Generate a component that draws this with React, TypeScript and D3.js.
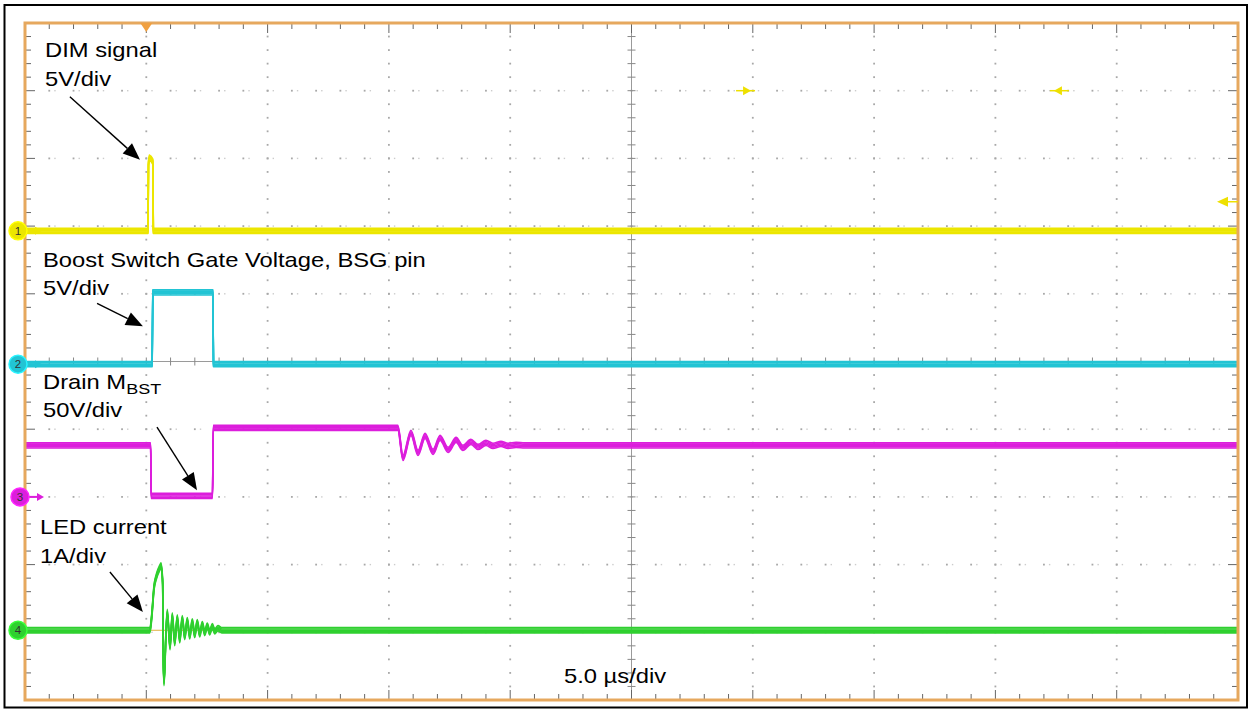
import React from 'react';
import * as d3 from 'd3';

// ---- Scope geometry (10 x 10 divisions) ----
const TIME_PER_DIV = 5; // µs/div
const timeRange: [number, number] = [-5, 45]; // µs, trigger at 0
const divRange: [number, number] = [5, -5];

// ---- Channel settings ----
const channelNames = ['1', '2', '3', '4'];
const channelColors = ['#ece600', '#22c4d4', '#dc1edc', '#2fd02f'];
const channelScale = [5, 5, 50, 1]; // units per div
const channelOffsetDiv = [1.93, -0.04, -2.0, -3.97]; // ground marker position (div)

// ---- Waveforms: [time µs, value] ----
const ch1DimSignal: [number, number][] = [
  [-5, 0], [0.07, 0], [0.09, 5.0], [0.13, 5.4], [0.2, 5.3], [0.27, 5.1], [0.29, 0], [45, 0],
];
const ch2GateVoltage: [number, number][] = [
  [-5, 0], [0.24, 0], [0.27, 5.3], [2.74, 5.3], [2.77, 0], [45, 0],
];
const ch3DrainVoltage: [number, number][] = [
  [-5, 38], [0.18, 38], [0.2, 0.7], [2.73, 0.7], [2.76, 51], [10.37, 51],
  [10.58, 28.8], [10.91, 47.3], [11.2, 32.5], [11.49, 45.1], [11.82, 33.2],
  [12.11, 43.6], [12.44, 34.7], [12.77, 42.1], [13.05, 36.2], [13.38, 40.6],
  [13.67, 36.9], [14.0, 39.9], [14.29, 37.7], [14.62, 39.1], [14.91, 37.7],
  [15.24, 38.4], [15.6, 38], [45, 38],
];
const ch4LedCurrent: [number, number][] = [
  [-5, 0], [0.15, 0], [0.22, 0.19], [0.32, 0.635], [0.43, 0.81], [0.565, 0.93],
  [0.606, 0.96], [0.676, 0.69], [0.701, -0.44], [0.73, -0.78], [0.812, -0.04],
  [0.866, 0.27], [0.977, -0.25], [1.072, 0.22], [1.171, -0.19], [1.278, 0.19],
  [1.377, -0.15], [1.484, 0.18], [1.583, -0.1], [1.69, 0.15], [1.789, -0.09],
  [1.896, 0.13], [1.995, -0.07], [2.102, 0.12], [2.201, -0.06], [2.308, 0.09],
  [2.407, -0.04], [2.514, 0.07], [2.613, -0.03], [2.721, 0.06], [2.819, -0.015],
  [2.955, 0.03], [3.12, 0], [45, 0],
];
const waveforms = [ch1DimSignal, ch2GateVoltage, ch3DrainVoltage, ch4LedCurrent];
const smoothTrace = [false, false, true, true];

// ---- Annotation text ----
const labelLines = ['DIM signal', '5V/div', 'Boost Switch Gate Voltage, BSG pin', '5V/div', 'Drain M', '50V/div', 'LED current', '1A/div'];
const timebaseLabel = `${TIME_PER_DIV.toFixed(1)} µs/div`;

// annotation arrows: [t0, div0, t1, div1]
const arrows: [number, number, number, number][] = [
  [-3.15, 3.91, -0.26, 2.98],
  [-2.03, 0.86, -0.14, 0.52],
  [0.44, -0.97, 2.09, -1.9],
  [-1.5, -3.11, -0.14, -3.7],
];

// cursor arrow markers: [t, div, direction]
const cursorMarks: [number, number, number][] = [
  [24.68, 4.0, 1],
  [37.66, 4.0, -1],
];

export default function App() {
  const X0 = 25, X1 = 1238, Y0 = 23, Y1 = 700;
  const x = d3.scaleLinear().domain(timeRange).range([X0, X1]);
  const yDiv = d3.scaleLinear().domain(divRange).range([Y0, Y1]);
  const divW = (X1 - X0) / 10;
  const divH = (Y1 - Y0) / 10;
  const xc = x(20);
  const yc = yDiv(0);

  const chY = (ci: number) => (v: number) => yDiv(channelOffsetDiv[ci] + v / channelScale[ci]);

  const majorX = d3.range(0, 11).map((i) => X0 + i * divW);
  const majorY = d3.range(0, 11).map((i) => Y0 + i * divH);
  const minorX = d3.range(0, 51).map((i) => X0 + (i * divW) / 5);
  const minorY = d3.range(0, 51).map((i) => Y0 + (i * divH) / 5);

  const dots: JSX.Element[] = [];
  majorX.slice(1, 10).forEach((gx, i) => {
    if (i === 4) return;
    minorY.slice(1, 50).forEach((gy, j) => {
      dots.push(<rect key={`vc${i}-${j}`} x={gx - 0.9} y={gy - 0.9} width={1.8} height={1.8} fill="#a8a8a8" />);
    });
  });
  majorY.slice(1, 10).forEach((gy, i) => {
    if (i === 4) return;
    minorX.slice(1, 50).forEach((gx, j) => {
      dots.push(<rect key={`hr${i}-${j}`} x={gx - 0.9} y={gy - 0.9} width={1.8} height={1.8} fill="#a8a8a8" />);
      dots.push(<rect key={`hr2${i}-${j}`} x={gx + 5} y={gy - 0.7} width={1.4} height={1.4} fill="#cccccc" />);
    });
  });

  const ticks: JSX.Element[] = [];
  minorX.forEach((gx, i) => {
    const len = i % 5 === 0 ? 10 : 6;
    ticks.push(<line key={`tt${i}`} x1={gx} x2={gx} y1={Y0} y2={Y0 + len} stroke="#666" strokeWidth={1} />);
    ticks.push(<line key={`tb${i}`} x1={gx} x2={gx} y1={Y1} y2={Y1 - len} stroke="#666" strokeWidth={1} />);
    ticks.push(<line key={`tc${i}`} x1={gx} x2={gx} y1={yc - 4} y2={yc + 4} stroke="#888" strokeWidth={1} />);
  });
  minorY.forEach((gy, i) => {
    const len = i % 5 === 0 ? 10 : 6;
    ticks.push(<line key={`tl${i}`} x1={X0} x2={X0 + len} y1={gy} y2={gy} stroke="#666" strokeWidth={1} />);
    ticks.push(<line key={`tr${i}`} x1={X1} x2={X1 - len} y1={gy} y2={gy} stroke="#666" strokeWidth={1} />);
    ticks.push(<line key={`tcv${i}`} x1={xc - 4} x2={xc + 4} y1={gy} y2={gy} stroke="#888" strokeWidth={1} />);
  });

  const traces = waveforms.map((data, ci) => {
    const line = d3
      .line<[number, number]>()
      .x((d) => x(d[0]))
      .y((d) => chY(ci)(d[1]))
      .curve(smoothTrace[ci] ? d3.curveMonotoneX : d3.curveLinear);
    const dPath = line(data) || '';
    const offsets = [-2.6, -1.3, 0, 1.3, 2.6];
    return (
      <g key={`tr${ci}`} clipPath="url(#plotClip)">
        {offsets.map((o) => (
          <path key={o} d={dPath} transform={`translate(0,${o})`} fill="none" stroke={channelColors[ci]} strokeWidth={1.6} strokeLinejoin="round" />
        ))}
      </g>
    );
  });

  const arrowEls = arrows.map(([t0, d0, t1, d1], i) => {
    const ax = x(t0), ay = yDiv(d0), bx = x(t1), by = yDiv(d1);
    const dx = bx - ax, dy = by - ay;
    const L = Math.hypot(dx, dy);
    const ux = dx / L, uy = dy / L;
    const hl = 17, hw = 7;
    const baseX = bx - ux * hl, baseY = by - uy * hl;
    const pts = [
      [bx, by],
      [baseX - uy * hw, baseY + ux * hw],
      [baseX + uy * hw, baseY - ux * hw],
    ].map((p) => p.join(',')).join(' ');
    return (
      <g key={`ar${i}`}>
        <line x1={ax} y1={ay} x2={baseX} y2={baseY} stroke="#000" strokeWidth={1.4} />
        <polygon points={pts} fill="#000" />
      </g>
    );
  });

  const cursorEls = cursorMarks.map(([t, dv, dir], i) => {
    const cx = x(t), cy = yDiv(dv);
    const tipX = cx + dir * 6;
    return (
      <g key={`cm${i}`}>
        <line x1={cx - dir * 9} x2={cx + dir * 10} y1={cy} y2={cy} stroke="#eee000" strokeWidth={1.5} />
        <polygon points={`${tipX},${cy} ${tipX - dir * 8},${cy - 4.5} ${tipX - dir * 8},${cy + 4.5}`} fill="#eee000" />
      </g>
    );
  });

  const rightArrowX = X1 - 16, rightArrowY = yDiv(2.36);

  const font = "'Liberation Sans', Arial, Helvetica, sans-serif";
  const sx = 1.2;
  const Label = ({ tx, ty, children, size = 19.8 }: any) => (
    <text transform={`translate(${tx},${ty}) scale(${sx},1)`} fontFamily={font} fontSize={size} fill="#000">
      {children}
    </text>
  );

  const markers = channelNames.map((n, ci) => {
    const my = yDiv(channelOffsetDiv[ci]);
    const mx = ci === 2 ? 20 : 18;
    return (
      <g key={`mk${ci}`}>
        {ci !== 3 && (
          <g>
            <line x1={mx + 6} x2={mx + 20} y1={my} y2={my} stroke={channelColors[ci]} strokeWidth={2} />
            <polygon points={`${mx + 24},${my} ${mx + 17},${my - 4} ${mx + 17},${my + 4}`} fill={channelColors[ci]} />
          </g>
        )}
        <circle cx={mx} cy={my} r={9} fill={channelColors[ci]} stroke={d3.color(channelColors[ci])!.brighter(0.6).toString()} strokeWidth={1.5} />
        <text x={mx} y={my + 4} textAnchor="middle" fontFamily={font} fontSize={11.5} fill="#333">{n}</text>
      </g>
    );
  });

  return (
    <svg width={1249} height={711} style={{ position: 'absolute', left: 0, top: 0, display: 'block', background: '#fff' }}>
      <defs>
        <clipPath id="plotClip">
          <rect x={X0 + 1} y={Y0} width={X1 - X0 - 2} height={Y1 - Y0} />
        </clipPath>
      </defs>
      <rect x={0} y={0} width={1249} height={711} fill="#fff" />
      <rect x={4.5} y={5} width={1242.5} height={702.5} fill="none" stroke="#000" strokeWidth={2} />
      {dots}
      <line x1={xc} x2={xc} y1={Y0} y2={Y1} stroke="#9a9a9a" strokeWidth={1} />
      <line x1={X0} x2={X1} y1={yc} y2={yc} stroke="#9a9a9a" strokeWidth={1} />
      {ticks}
      <line x1={x(0)} x2={x(4)} y1={chY(3)(0)} y2={chY(3)(0)} stroke="#e0b040" strokeWidth={1} />
      {traces}
      <rect x={X0} y={Y0} width={X1 - X0} height={Y1 - Y0} fill="none" stroke="#e6a85e" strokeWidth={3} />
      <polygon points={`${x(0) - 6},${Y0} ${x(0) + 6},${Y0} ${x(0)},${Y0 + 9}`} fill="#f0a040" />
      {cursorEls}
      <g>
        <line x1={rightArrowX + 4} x2={X1} y1={rightArrowY} y2={rightArrowY} stroke="#eee000" strokeWidth={1.5} />
        <polygon points={`${rightArrowX - 5},${rightArrowY} ${rightArrowX + 6},${rightArrowY - 5} ${rightArrowX + 6},${rightArrowY + 5}`} fill="#eee000" />
      </g>
      {markers}
      {arrowEls}
      <Label tx={45} ty={57}>{labelLines[0]}</Label>
      <Label tx={45} ty={86}>{labelLines[1]}</Label>
      <Label tx={43} ty={267}>{labelLines[2]}</Label>
      <Label tx={43} ty={295}>{labelLines[3]}</Label>
      <text transform={`translate(43,389) scale(${sx},1)`} fontFamily={font} fontSize={19.8} fill="#000">
        {labelLines[4]}
        <tspan fontSize={15} dy={5}>BST</tspan>
      </text>
      <Label tx={43} ty={417}>{labelLines[5]}</Label>
      <Label tx={40} ty={534}>{labelLines[6]}</Label>
      <Label tx={40} ty={563}>{labelLines[7]}</Label>
      <Label tx={564} ty={683}>{timebaseLabel}</Label>
    </svg>
  );
}
